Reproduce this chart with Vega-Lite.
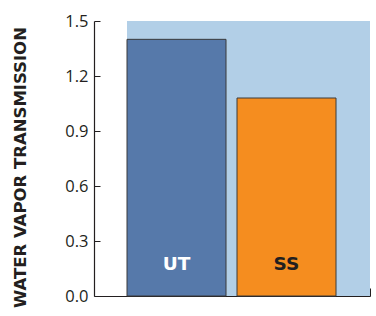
{
  "$schema": "https://vega.github.io/schema/vega-lite/v6.json",
  "width": 276,
  "height": 275,
  "autosize": "none",
  "padding": {"left": 94, "top": 21, "right": 6, "bottom": 20},
  "background": "white",
  "config": {"view": {"stroke": null}},
  "datasets": {
    "bg": [{"x0": 3, "x1": 25.09, "y0": 0, "y1": 1.5}],
    "bars": [
      {"cat": "UT", "start": 3, "end": 12, "mid": 7.5, "value": 1.4, "labelY": 0.175},
      {"cat": "SS", "start": 13, "end": 22, "mid": 17.5, "value": 1.08, "labelY": 0.175}
    ]
  },
  "layer": [
    {
      "data": {"name": "bg"},
      "mark": {"type": "rect", "color": "#b2cfe7"},
      "encoding": {
        "x": {"field": "x0", "type": "quantitative", "scale": {"domain": [0, 25.09], "nice": false, "zero": false},
              "axis": {"title": null, "labels": false, "grid": false, "values": [25.09], "tickSize": -8, "tickColor": "#231f20", "domainColor": "#231f20", "domainWidth": 1.2}},
        "x2": {"field": "x1"},
        "y": {"field": "y0", "type": "quantitative", "scale": {"domain": [0, 1.5], "nice": false},
              "axis": {"title": "WATER VAPOR TRANSMISSION", "values": [0, 0.3, 0.6, 0.9, 1.2, 1.5], "format": ".1f", "grid": false,
                       "tickSize": -6, "tickColor": "#231f20", "domainColor": "#231f20", "domainWidth": 1.2, "labelPadding": 12,
                       "labelFont": "Open Sans", "labelFontSize": 16.5, "labelColor": "#231f20",
                       "titleFont": "DejaVu Sans", "titleFontWeight": "bold", "titleFontSize": 16.5, "titleColor": "#231f20",
                       "titleX": -74, "titleY": 146, "titleAngle": -90, "titleAlign": "center", "titleBaseline": "middle"}},
        "y2": {"field": "y1"}
      }
    },
    {
      "data": {"name": "bars"},
      "mark": {"type": "rect", "stroke": "#3a3a3a", "strokeWidth": 1},
      "encoding": {
        "x": {"field": "start", "type": "quantitative"},
        "x2": {"field": "end"},
        "y": {"field": "value", "type": "quantitative"},
        "y2": {"datum": 0},
        "color": {"field": "cat", "type": "nominal", "scale": {"domain": ["UT", "SS"], "range": ["#5679aa", "#f58d1f"]}, "legend": null}
      }
    },
    {
      "data": {"name": "bars"},
      "mark": {"type": "text", "font": "DejaVu Sans", "fontWeight": "bold", "fontSize": 18.5, "baseline": "middle", "align": "center"},
      "encoding": {
        "x": {"field": "mid", "type": "quantitative"},
        "y": {"field": "labelY", "type": "quantitative"},
        "text": {"field": "cat"},
        "color": {"field": "cat", "type": "nominal", "scale": {"domain": ["UT", "SS"], "range": ["#ffffff", "#231f20"]}, "legend": null}
      }
    }
  ],
  "resolve": {"scale": {"color": "independent"}}
}
